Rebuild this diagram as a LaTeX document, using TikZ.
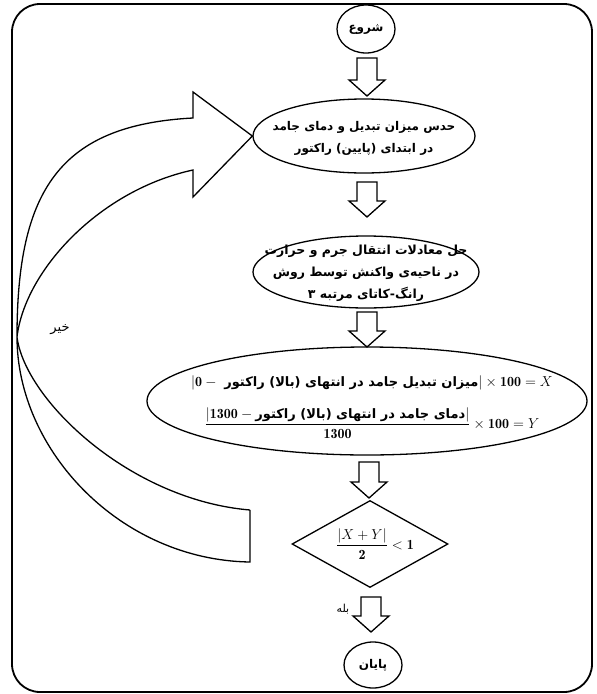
\documentclass[tikz,border=0pt]{standalone}
\usepackage{amsmath}
\usepackage{fontspec}
\usetikzlibrary{shapes.geometric,calc}
\newfontfamily\ar[Script=Arabic]{DejaVu Sans}
\TeXXeTstate=1
\tikzset{
  shp/.style={draw, line width=1.3pt, line join=miter},
  elps/.style={shp, ellipse, inner sep=0pt},
  dmd/.style={shp, diamond, inner sep=0pt},
  lbl/.style={font=\ar\bfseries\fontsize{12}{22}\selectfont, align=center, inner sep=0pt},
  term/.style={font=\ar\bfseries\fontsize{12}{14}\selectfont, inner sep=0pt},
  small/.style={font=\ar\fontsize{11}{12}\selectfont, inner sep=0pt},
  mth/.style={inner sep=0pt, font=\fontsize{14}{16}\selectfont}
}
% hollow block arrow: x, y of tail, y of tip
\newcommand\blockarrow[3]{%
  \draw[shp] (#1-10,#2) -- (#1+10,#2) -- (#1+10,#3-16) -- (#1+18,#3-16)
    -- (#1,#3) -- (#1-18,#3-16) -- (#1-10,#3-16) -- cycle;}
\begin{document}
\begin{tikzpicture}[x=1pt,y=-1pt]
\useasboundingbox (0,0) rectangle (597,694);
% frame
\draw[line width=1.8pt, rounded corners=28pt] (12,4) rectangle (592,692);
% nodes
\node[elps, minimum width=58pt, minimum height=48pt] (s) at (366,29) {};
\node[term] at (s) {\beginR شروع\endR};
\node[elps, minimum width=222pt, minimum height=74pt] (e1) at (364,136) {};
\node[lbl] at ($(e1)+(0,2)$) {\beginR حدس میزان تبدیل و دمای جامد\endR\\\beginR در ابتدای (پایین) راکتور\endR};
\node[elps, minimum width=226pt, minimum height=72pt] (e2) at (366,272) {};
\node[lbl, font=\ar\bfseries\fontsize{12.5}{22}\selectfont] at ($(e2)+(0,1)$) {\beginR حل معادلات انتقال جرم و حرارت\endR\\\beginR در ناحیه‌ی واکنش توسط روش\endR\\\beginR رانگ-کاتای مرتبه ۳\endR};
\node[elps, minimum width=440pt, minimum height=108pt] (e3) at (367,401) {};
\node[mth] (t3a) at (372,383)
  {$|\mathbf{0} - {}$ {\ar\bfseries\fontsize{13}{15}\selectfont\beginR میزان تبدیل جامد در انتهای (بالا) راکتور\endR}$|\times \mathbf{100} = X$};
\node[mth] (t3b) at (372,423)
  {$\dfrac{|\mathbf{1300} - \text{\ar\bfseries\fontsize{13}{15}\selectfont\beginR دمای جامد در انتهای (بالا) راکتور\endR}|}{\mathbf{1300}}\times \mathbf{100} = Y$};
\node[dmd, minimum width=156pt, minimum height=87pt] (d) at (370,544) {};
\node[mth] at (375,544) {$\dfrac{|X+Y|}{\mathbf{2}} < \mathbf{1}$};
\node[elps, minimum width=58pt, minimum height=46pt] (en) at (373,665) {};
\node[term] at (en) {\beginR پایان\endR};
% block arrows
\blockarrow{367}{58}{96}
\blockarrow{367}{182}{217}
\blockarrow{367}{312}{347}
\blockarrow{369}{462}{498}
\blockarrow{371}{597}{632}
\node[small] (yes) at (343,609) {\beginR بله\endR};
\node[small, font=\ar\fontsize{13}{14}\selectfont] (no) at (60,330) {\beginR خیر\endR};
% loop arrow (no)
\draw[shp]
  (250,510) -- (250,562)
  .. controls (120,560) and (17,450) .. (17,337)
  .. controls (17,190) and (60,125) .. (193,118)
  -- (193,92) -- (e1.west) -- (193,197) -- (193,170)
  .. controls (100,190) and (25,270) .. (17,337)
  .. controls (25,400) and (130,500) .. (250,510);
\end{tikzpicture}
\end{document}
